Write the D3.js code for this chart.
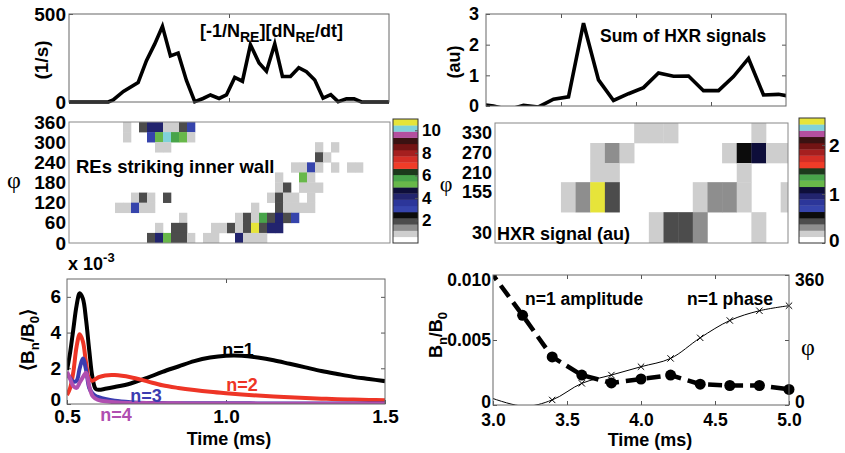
<!DOCTYPE html>
<html>
<head>
<meta charset="utf-8">
<script src="https://cdn.jsdelivr.net/npm/d3@7"></script>
<style>
body { margin: 0; background: #fff; }
svg text { font-family: "Liberation Sans", Arial, sans-serif; font-weight: bold; fill: #000; }
svg text.phi { font-family: "Liberation Serif", "DejaVu Serif", serif; font-weight: normal; }
</style>
</head>
<body>
<div id="viz"></div>
<script>
// ---- data ----
// top left: -1/N dN/dt of runaway electrons (1/s)
const reTime = [0.5, 0.623, 0.638, 0.67, 0.716, 0.742, 0.768, 0.792, 0.817, 0.841, 0.867, 0.893, 0.919, 0.942, 0.969, 0.992, 1.018, 1.042, 1.067, 1.094, 1.117, 1.143, 1.167, 1.192, 1.218, 1.242, 1.268, 1.294, 1.318, 1.341, 1.367, 1.391, 1.414, 1.5]
const reRate = [0, 0, 12, 60, 110, 235, 330, 430, 262, 278, 122, 2, 20, 40, 20, 40, 140, 118, 325, 222, 175, 330, 145, 145, 195, 172, 125, 22, 42, 2, 18, 18, 0, 0]

// top right: sum of HXR signals (au)
const hxrTime = [2.95, 3.05, 3.15, 3.25, 3.35, 3.45, 3.55, 3.65, 3.75, 3.85, 3.95, 4.05, 4.15, 4.25, 4.35, 4.45, 4.55, 4.65, 4.75, 4.85, 4.95, 5.05]
const hxrSum = [0.06, 0.0, -0.12, 0.02, -0.03, 0.22, 0.3, 2.7, 0.85, 0.18, 0.4, 0.6, 1.08, 0.97, 0.98, 0.5, 0.5, 0.96, 1.55, 0.36, 0.38, 0.3]

// middle left: REs striking inner wall, [time bin, phi bin start, count]
const rePhiStep = 30
const reCells = [
  [7,330,1],[9,330,2],[10,330,4],[11,330,4],[12,330,1],[13,330,1],[14,330,2],[15,330,3],
  [7,300,1],[10,300,3],[11,300,5.2],[12,300,10.2],[13,300,5.8],[14,300,5.2],[15,300,1],
  [11,270,1],[12,270,1],[31,270,1],[33,270,1],
  [31,240,2],[32,240,1],
  [28,210,1],[29,210,1],[30,210,3],[31,210,1],[33,210,1],[35,210,1],[36,210,1],
  [26,180,1],[29,180,5.2],[30,180,1],
  [26,150,1],[27,150,2],[29,150,1],[30,150,1],[31,150,1],
  [8,120,1],[9,120,2],[10,120,1],[12,120,2],[25,120,1],[26,120,2],[27,120,1],[28,120,1],[30,120,1],
  [6,90,1],[7,90,1],[8,90,3],[9,90,1],[10,90,1],[23,90,1],[26,90,2],[27,90,1],[28,90,1],[29,90,1],[30,90,1],
  [14,60,1],[21,60,1],[22,60,2],[23,60,1],[24,60,5.8],[25,60,2],[26,60,4],[27,60,2],[28,60,3],
  [11,30,1],[13,30,2],[14,30,2],[18,30,1],[19,30,1],[20,30,2],[21,30,1],[22,30,2],[23,30,10.8],[24,30,2],[25,30,4],[26,30,4],
  [10,0,2],[11,0,4],[12,0,5.2],[13,0,2],[14,0,2],[15,0,1],[17,0,1],[18,0,1],[21,0,4],[22,0,1],[23,0,1],[24,0,1]
]
const reCbTicks = [2, 4, 6, 8, 10]

// middle right: HXR signal, [time, phi bin start, au]
const hxrPhiEdges = [0, 92.5, 182.5, 240, 300, 360]
const hxrPhiTicks = [30, 155, 210, 270, 330]
const hxrCells = [
  [4.0,300,0.15],[4.1,300,0.15],[4.2,300,0.15],[4.8,300,0.15],
  [3.7,240,0.15],[3.8,240,0.3],[3.9,240,0.15],[4.6,240,0.15],[4.7,240,0.57],[4.8,240,1.08],[4.9,240,0.15],[5.0,240,0.15],
  [3.7,182.5,0.15],[3.8,182.5,0.15],[4.7,182.5,0.15],
  [3.5,92.5,0.15],[3.6,92.5,0.3],[3.7,92.5,2.5],[3.8,92.5,0.45],[4.4,92.5,0.15],[4.5,92.5,0.3],[4.6,92.5,0.3],[4.7,92.5,0.15],[5.0,92.5,0.15],
  [4.1,0,0.15],[4.2,0,0.45],[4.3,0,0.45],[4.4,0,0.3],[4.8,0,0.15]
]
const hxrCbTicks = [0, 1, 2]

// colour map, low to high (20 levels)
const cmap = ["#ffffff","#cecece","#8e8e8e","#4c4c4c","#0c0c0c","#3644ac","#2c369a","#22246e","#0e0e3a",
  "#68b84a","#48a44a","#1e6e3c","#1c3a1c","#f03c28","#d42e26","#a51f1f","#731414","#3a1212","#b44f9f","#80d2da","#e6e43a"].filter((c, i) => i !== 11)

// bottom left: <Bn/B0> x 1e-3
const modeTime = [0.50, 0.51, 0.52, 0.53, 0.54, 0.55, 0.56, 0.57, 0.58, 0.59, 0.60, 0.62, 0.65, 0.70, 0.75, 0.80, 0.85, 0.90, 0.95, 1.00, 1.05, 1.10, 1.15, 1.20, 1.25, 1.30, 1.35, 1.40, 1.45, 1.50]
const modeN1 = [1.9, 2.9, 4.2, 5.5, 6.2, 5.9, 4.7, 3.0, 1.5, 0.85, 0.8, 0.85, 0.95, 1.15, 1.45, 1.8, 2.1, 2.4, 2.6, 2.7, 2.7, 2.6, 2.45, 2.25, 2.05, 1.85, 1.68, 1.52, 1.4, 1.28]
const modeN2 = [0.5, 0.9, 1.8, 3.2, 3.9, 3.5, 2.3, 1.4, 1.3, 1.4, 1.5, 1.6, 1.62, 1.5, 1.28, 1.05, 0.9, 0.78, 0.68, 0.6, 0.53, 0.47, 0.42, 0.38, 0.34, 0.3, 0.27, 0.25, 0.23, 0.21]
const modeN3 = [1.7, 1.45, 1.25, 1.3, 2.0, 2.55, 1.9, 0.9, 0.6, 0.45, 0.38, 0.28, 0.18, 0.1, 0.06, 0.05, 0.04, 0.04, 0.04, 0.04, 0.04, 0.03, 0.03, 0.03, 0.03, 0.03, 0.03, 0.03, 0.03, 0.03]
const modeN4 = [1.8, 1.4, 1.0, 0.9, 1.2, 1.5, 1.75, 1.0, 0.45, 0.3, 0.22, 0.15, 0.1, 0.06, 0.05, 0.04, 0.04, 0.03, 0.03, 0.03, 0.03, 0.02, 0.02, 0.02, 0.02, 0.02, 0.02, 0.02, 0.02, 0.02]
const modeNames = ["n=1", "n=2", "n=3", "n=4"]
const modeColors = ["#000000", "#ee3526", "#3c3cb0", "#b04fb0"]

// bottom right: n=1 amplitude and phase
const fitTime = [2.8, 3.2, 3.4, 3.6, 3.8, 4.0, 4.2, 4.4, 4.6, 4.8, 5.0]
const ampN1 = [0.0131, 0.0069, 0.0037, 0.0023, 0.0017, 0.0020, 0.0023, 0.0016, 0.0015, 0.0015, 0.0012]
const phaseN1 = [49, -3, 14, 60, 83, 106, 129, 186, 234, 261, 275]

// ---- setup ----
const svg = d3.select('#viz').append('svg')
    .attr('width', 845)
    .attr('height', 453)
const defs = svg.append('defs')

function clip(id, x0, y0, x1, y1) {
    defs.append('clipPath').attr('id', id)
        .append('rect')
        .attr('x', x0).attr('y', y0)
        .attr('width', x1 - x0).attr('height', y1 - y0)
    return 'url(#' + id + ')'
}
function box(x0, y0, x1, y1, col) {
    svg.append('rect')
        .attr('x', x0).attr('y', y0)
        .attr('width', x1 - x0).attr('height', y1 - y0)
        .attr('fill', 'none')
        .attr('stroke', col || '#666')
        .attr('stroke-width', 1)
}
function axis(g, size) {
    g.select('.domain').remove()
    g.selectAll('line').attr('stroke', '#555')
    g.selectAll('text').attr('font-size', size)
    return g
}
function rotLabel(x, y, size) {
    return svg.append('text')
        .attr('transform', `translate(${x},${y}) rotate(-90)`)
        .attr('text-anchor', 'middle')
        .attr('font-size', size)
}
function phi(x, y, size) {
    svg.append('text').attr('class', 'phi')
        .attr('x', x).attr('y', y)
        .attr('text-anchor', 'middle')
        .attr('font-size', size)
        .text('\u03C6')
}
const fmtInt = d3.format('d')

// ---- top left ----
const xA = d3.scaleLinear().domain([0.5, 1.5]).range([69, 389])
const yA = d3.scaleLinear().domain([0, 500]).range([102, 14])
axis(svg.append('g').attr('transform', 'translate(69,0)')
    .call(d3.axisLeft(yA).tickValues([0, 500]).tickFormat(fmtInt).tickSize(-4).tickPadding(3)), 19)
axis(svg.append('g').attr('transform', 'translate(0,102)')
    .call(d3.axisBottom(xA).tickValues([1.0]).tickFormat('').tickSize(-4)), 19)
axis(svg.append('g').attr('transform', 'translate(0,14)')
    .call(d3.axisTop(xA).tickValues([1.0]).tickFormat('').tickSize(-4)), 19)
svg.append('path')
    .datum(reTime.map((t, i) => [t, reRate[i]]))
    .attr('d', d3.line().x(d => xA(d[0])).y(d => yA(d[1])))
    .attr('fill', 'none')
    .attr('stroke', '#000')
    .attr('stroke-width', 3.6)
    .attr('stroke-linejoin', 'miter')
box(69, 14, 389, 102)
rotLabel(48, 60, 19).text('(1/s)')
let t1 = svg.append('text').attr('x', 200).attr('y', 37).attr('font-size', 18)
t1.append('tspan').text('[-1/N')
t1.append('tspan').attr('dy', 5).attr('font-size', 14).text('RE')
t1.append('tspan').attr('dy', -5).text('][dN')
t1.append('tspan').attr('dy', 5).attr('font-size', 14).text('RE')
t1.append('tspan').attr('dy', -5).text('/dt]')

// ---- top right ----
const xD = d3.scaleLinear().domain([3, 5]).range([486, 786])
const yD = d3.scaleLinear().domain([0, 3]).range([106, 14])
axis(svg.append('g').attr('transform', 'translate(486,0)')
    .call(d3.axisLeft(yD).tickValues([0, 1, 2, 3]).tickFormat(fmtInt).tickSize(-4).tickPadding(7)), 18)
axis(svg.append('g').attr('transform', 'translate(786,0)')
    .call(d3.axisRight(yD).tickValues([1, 2]).tickFormat('').tickSize(-4)), 18)
axis(svg.append('g').attr('transform', 'translate(0,106)')
    .call(d3.axisBottom(xD).tickValues([3.5, 4, 4.5]).tickFormat('').tickSize(-4)), 18)
axis(svg.append('g').attr('transform', 'translate(0,14)')
    .call(d3.axisTop(xD).tickValues([3.5, 4, 4.5]).tickFormat('').tickSize(-4)), 18)
svg.append('path')
    .datum(hxrTime.map((t, i) => [t, hxrSum[i]]))
    .attr('clip-path', clip('clipD', 486, 14, 786, 106))
    .attr('d', d3.line().x(d => xD(d[0])).y(d => yD(d[1])))
    .attr('fill', 'none')
    .attr('stroke', '#000')
    .attr('stroke-width', 3.6)
    .attr('stroke-linejoin', 'miter')
box(486, 14, 786, 106)
rotLabel(460, 62, 18).text('(au)')
svg.append('text').attr('x', 600).attr('y', 42).attr('font-size', 17.5).text('Sum of HXR signals')

// ---- middle left heatmap ----
const xB = d3.scaleLinear().domain([0.25, 40.375]).range([69, 390])
const yB = d3.scaleLinear().domain([0, 360]).range([243, 122])
const cB = d3.scaleQuantize().domain([0, 11]).range(cmap)
svg.append('g')
    .attr('clip-path', clip('clipB', 69, 122, 390, 243))
    .selectAll('rect')
    .data(reCells)
    .join('rect')
    .attr('x', d => xB(d[0]))
    .attr('width', d => xB(d[0] + 1) - xB(d[0]) + 0.3)
    .attr('y', d => yB(d[1] + rePhiStep))
    .attr('height', d => yB(d[1]) - yB(d[1] + rePhiStep) + 0.3)
    .attr('fill', d => cB(d[2]))
box(69, 122, 390, 243, '#888')
axis(svg.append('g').attr('transform', 'translate(69,0)')
    .call(d3.axisLeft(yB).tickValues(d3.range(0, 361, 60)).tickFormat(fmtInt).tickSize(0).tickPadding(3)), 19)
svg.append('text').attr('x', 76).attr('y', 173).attr('font-size', 18.5).text('REs striking inner wall')
phi(14, 188, 24)

// colour bar left
const cbB = d3.scaleLinear().domain([0, 11]).range([243, 119])
svg.append('g').selectAll('rect')
    .data(cmap)
    .join('rect')
    .attr('x', 393).attr('width', 25)
    .attr('y', (d, i) => cbB((i + 1) * 11 / cmap.length))
    .attr('height', (d, i) => cbB(i * 11 / cmap.length) - cbB((i + 1) * 11 / cmap.length) + 0.3)
    .attr('fill', d => d)
box(393, 119, 418, 243, '#333')
axis(svg.append('g').attr('transform', 'translate(418,0)')
    .call(d3.axisRight(cbB).tickValues(reCbTicks).tickFormat(fmtInt).tickSize(-3).tickPadding(4)), 17)

// ---- middle right heatmap ----
const xE = d3.scaleLinear().domain([3, 5]).range([495, 788])
const yE = d3.scaleLinear().domain([0, 360]).range([243, 123])
const cE = d3.scaleQuantize().domain([0, 2.55]).range(cmap)
const nextEdge = p => hxrPhiEdges[hxrPhiEdges.indexOf(p) + 1]
svg.append('g')
    .attr('clip-path', clip('clipE', 495, 123, 788, 243))
    .selectAll('rect')
    .data(hxrCells)
    .join('rect')
    .attr('x', d => xE(d[0] - 0.05))
    .attr('width', d => xE(d[0] + 0.05) - xE(d[0] - 0.05) + 0.3)
    .attr('y', d => yE(nextEdge(d[1])))
    .attr('height', d => yE(d[1]) - yE(nextEdge(d[1])) + 0.3)
    .attr('fill', d => cE(d[2]))
box(495, 123, 788, 243, '#888')
axis(svg.append('g').attr('transform', 'translate(495,0)')
    .call(d3.axisLeft(yE).tickValues(hxrPhiTicks).tickFormat(fmtInt).tickSize(0).tickPadding(3)), 18)
svg.append('text').attr('x', 497).attr('y', 240).attr('font-size', 18).text('HXR signal (au)')
phi(446, 191, 22)

// colour bar right
const cbE = d3.scaleLinear().domain([0, 2.55]).range([243, 118])
svg.append('g').selectAll('rect')
    .data(cmap)
    .join('rect')
    .attr('x', 799).attr('width', 26)
    .attr('y', (d, i) => cbE((i + 1) * 2.55 / cmap.length))
    .attr('height', (d, i) => cbE(i * 2.55 / cmap.length) - cbE((i + 1) * 2.55 / cmap.length) + 0.3)
    .attr('fill', d => d)
box(799, 118, 825, 243, '#333')
axis(svg.append('g').attr('transform', 'translate(825,0)')
    .call(d3.axisRight(cbE).tickValues(hxrCbTicks).tickFormat(fmtInt).tickSize(-3).tickPadding(4)), 19)
    .selectAll('text').attr('y', d => d === 0 ? -3 : 0)

// ---- bottom left ----
const xC = d3.scaleLinear().domain([0.5, 1.5]).range([67, 385])
const yC = d3.scaleLinear().domain([0, 7]).range([404, 279])
axis(svg.append('g').attr('transform', 'translate(67,0)')
    .call(d3.axisLeft(yC).tickValues([0, 2, 4, 6]).tickFormat(fmtInt).tickSize(-4).tickPadding(6)), 19)
    .selectAll('text').attr('y', d => d === 0 ? -5 : 0)
axis(svg.append('g').attr('transform', 'translate(385,0)')
    .call(d3.axisRight(yC).tickValues([2, 4, 6]).tickFormat('').tickSize(-4)), 19)
axis(svg.append('g').attr('transform', 'translate(0,404)')
    .call(d3.axisBottom(xC).tickValues([0.5, 1.0, 1.5]).tickFormat(d3.format('.1f')).tickSize(-4).tickPadding(6)), 19)
axis(svg.append('g').attr('transform', 'translate(0,279)')
    .call(d3.axisTop(xC).tickValues([1.0]).tickFormat('').tickSize(-4)), 19)
const modeSeries = [modeN1, modeN2, modeN3, modeN4]
svg.append('g')
    .attr('clip-path', clip('clipC', 67, 279, 385, 404))
    .selectAll('path')
    .data(modeSeries)
    .join('path')
    .attr('d', s => d3.line().curve(d3.curveCatmullRom.alpha(0.5))
        .x((v, i) => xC(modeTime[i])).y(v => yC(v))(s))
    .attr('fill', 'none')
    .attr('stroke', (s, i) => modeColors[i])
    .attr('stroke-width', 4)
box(67, 279, 385, 404)
const modeLabelPos = [[238, 356], [242, 391], [146, 402], [116, 421]]
svg.append('g').selectAll('text')
    .data(modeNames)
    .join('text')
    .attr('x', (d, i) => modeLabelPos[i][0])
    .attr('y', (d, i) => modeLabelPos[i][1])
    .attr('text-anchor', 'middle')
    .attr('font-size', 18)
    .style('fill', (d, i) => modeColors[i])
    .text(d => d)
let t2 = svg.append('text').attr('x', 68).attr('y', 270).attr('font-size', 18)
t2.append('tspan').text('x 10')
t2.append('tspan').attr('dy', -8).attr('font-size', 13).text('-3')
let t3 = rotLabel(34, 340, 19)
t3.append('tspan').text('\u27E8B')
t3.append('tspan').attr('dy', 5).attr('font-size', 13).text('n')
t3.append('tspan').attr('dy', -5).text('/B')
t3.append('tspan').attr('dy', 5).attr('font-size', 13).text('0')
t3.append('tspan').attr('dy', -5).text('\u27E9')
svg.append('text').attr('x', 229).attr('y', 445).attr('text-anchor', 'middle').attr('font-size', 18).text('Time (ms)')

// ---- bottom right ----
const xF = d3.scaleLinear().domain([3, 5]).range([493, 789])
const yF = d3.scaleLinear().domain([0, 0.01]).range([405, 275])
const yF2 = d3.scaleLinear().domain([0, 360]).range([405, 275])
// end labels sit a little inside the box, as in the figure
const edgeShift = (d, s) => d === s.domain()[1] ? 5 : d === 0 ? -3 : 0
axis(svg.append('g').attr('transform', 'translate(493,0)')
    .call(d3.axisLeft(yF).tickValues([0, 0.005, 0.01]).tickFormat(d => d === 0 ? '0' : d3.format('.3f')(d)).tickSize(-4).tickPadding(2)), 17.5)
    .selectAll('text').attr('y', d => edgeShift(d, yF))
axis(svg.append('g').attr('transform', 'translate(789,0)')
    .call(d3.axisRight(yF2).tickValues([0, 360]).tickFormat(fmtInt).tickSize(-4).tickPadding(6)), 17.5)
    .selectAll('text').attr('y', d => edgeShift(d, yF2))
axis(svg.append('g').attr('transform', 'translate(789,0)')
    .call(d3.axisRight(yF).tickValues([0.005]).tickFormat('').tickSize(-4)), 17.5)
axis(svg.append('g').attr('transform', 'translate(0,405)')
    .call(d3.axisBottom(xF).tickValues([3, 3.5, 4, 4.5, 5]).tickFormat(d3.format('.1f')).tickSize(-4).tickPadding(9)), 17.5)
axis(svg.append('g').attr('transform', 'translate(0,275)')
    .call(d3.axisTop(xF).tickValues([3.5, 4, 4.5]).tickFormat('').tickSize(-4)), 17.5)

const clipF = clip('clipF', 493, 275, 789, 405)
const inF = (t, v, sy) => t >= 3 && t <= 5 && v >= 0 && sy(v) >= 275
// phase, thin line with x markers
svg.append('path')
    .datum(fitTime.map((t, i) => [t, phaseN1[i]]))
    .attr('clip-path', clipF)
    .attr('d', d3.line().curve(d3.curveCatmullRom.alpha(0.5)).x(d => xF(d[0])).y(d => yF2(d[1])))
    .attr('fill', 'none')
    .attr('stroke', '#000')
    .attr('stroke-width', 1)
const cross = d3.symbol().type(d3.symbolTimes || d3.symbolCross).size(28)
svg.append('g').selectAll('path')
    .data(fitTime.map((t, i) => [t, phaseN1[i]]).filter(d => inF(d[0], d[1], yF2)))
    .join('path')
    .attr('transform', d => `translate(${xF(d[0])},${yF2(d[1])})` + (d3.symbolTimes ? '' : ' rotate(45)'))
    .attr('d', cross)
    .attr('fill', 'none')
    .attr('stroke', '#000')
    .attr('stroke-width', 1)
// amplitude, thick dashed with dots
svg.append('path')
    .datum(fitTime.map((t, i) => [t, ampN1[i]]))
    .attr('clip-path', clipF)
    .attr('d', d3.line().x(d => xF(d[0])).y(d => yF(d[1])))
    .attr('fill', 'none')
    .attr('stroke', '#000')
    .attr('stroke-width', 4.5)
    .attr('stroke-dasharray', '14,7')
svg.append('g').selectAll('circle')
    .data(fitTime.map((t, i) => [t, ampN1[i]]).filter(d => inF(d[0], d[1], yF)))
    .join('circle')
    .attr('cx', d => xF(d[0]))
    .attr('cy', d => yF(d[1]))
    .attr('r', 5.5)
    .attr('fill', '#000')
box(493, 275, 789, 405)
svg.append('text').attr('x', 525).attr('y', 305).attr('font-size', 17.5).text('n=1 amplitude')
svg.append('text').attr('x', 687).attr('y', 305).attr('font-size', 17.5).text('n=1 phase')
let t4 = rotLabel(442, 335, 18)
t4.append('tspan').text('B')
t4.append('tspan').attr('dy', 5).attr('font-size', 13).text('n')
t4.append('tspan').attr('dy', -5).text('/B')
t4.append('tspan').attr('dy', 5).attr('font-size', 13).text('0')
phi(808, 355, 24)
svg.append('text').attr('x', 650).attr('y', 446).attr('text-anchor', 'middle').attr('font-size', 18).text('Time (ms)')
</script>
</body>
</html>
